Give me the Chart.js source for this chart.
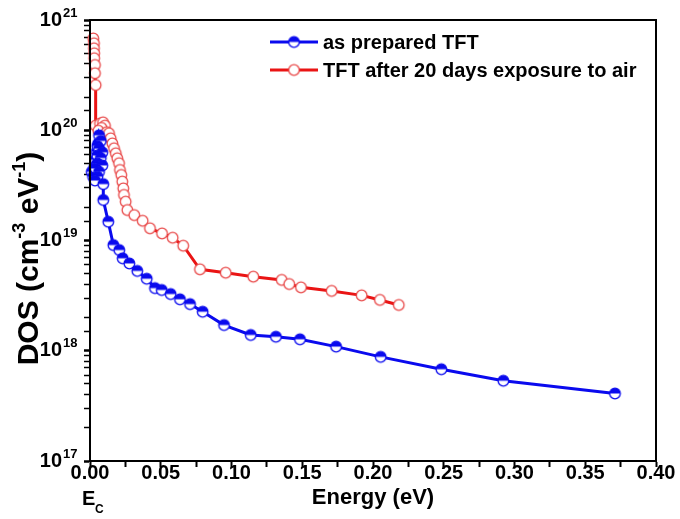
<!DOCTYPE html>
<html><head><meta charset="utf-8">
<script src="https://cdn.jsdelivr.net/npm/chart.js@4/dist/chart.umd.min.js"></script>
<style>html,body{margin:0;padding:0;background:#fff;}</style>
</head><body>
<canvas id="c" width="680" height="519"></canvas>
<script>
// ---- data ----
const seriesNames = ['as prepared TFT', 'TFT after 20 days exposure to air'];

const blueEnergy = [0.0012, 0.0022, 0.0030, 0.0040, 0.0048, 0.0058, 0.0064, 0.0076, 0.0052, 0.0064, 0.0087, 0.0052, 0.0076, 0.0052, 0.0087, 0.0040, 0.0064, 0.0052, 0.0035, 0.0094, 0.0094, 0.0129, 0.0165, 0.0207, 0.0231, 0.0278, 0.0334, 0.0401, 0.0459, 0.0507, 0.0570, 0.0636, 0.0707, 0.0796, 0.0947, 0.1136, 0.1314, 0.1484, 0.1739, 0.2054, 0.2483, 0.2921, 0.3710];
const blueDOS = [4.2e19, 3.8e19, 4.6e19, 5.4e19, 6.4e19, 7.6e19, 9.0e19, 8.0e19, 7.2e19, 6.8e19, 6.3e19, 5.9e19, 5.6e19, 5.0e19, 4.8e19, 4.5e19, 4.2e19, 3.8e19, 3.5e19, 3.25e19, 2.33e19, 1.48e19, 9.1e18, 8.2e18, 6.9e18, 6.2e18, 5.3e18, 4.5e18, 3.7e18, 3.56e18, 3.27e18, 2.93e18, 2.65e18, 2.26e18, 1.71e18, 1.39e18, 1.34e18, 1.27e18, 1.09e18, 8.8e17, 6.8e17, 5.35e17, 4.1e17];

const redEnergy = [0.0023, 0.0028, 0.0028, 0.0030, 0.0030, 0.0035, 0.0035, 0.0040, 0.0040, 0.0071, 0.0092, 0.0106, 0.0082, 0.0059, 0.0118, 0.0134, 0.0146, 0.0158, 0.0170, 0.0182, 0.0193, 0.0205, 0.0212, 0.0221, 0.0228, 0.0235, 0.0240, 0.0252, 0.0264, 0.0313, 0.0372, 0.0424, 0.0509, 0.0584, 0.0659, 0.0777, 0.0959, 0.1154, 0.1355, 0.1408, 0.1491, 0.1708, 0.1920, 0.2049, 0.2182];
const redDOS = [6.8e20, 6.15e20, 5.54e20, 4.99e20, 4.5e20, 3.91e20, 3.29e20, 2.57e20, 1.1e20, 1.15e20, 1.18e20, 1.1e20, 1.05e20, 9.9e19, 9.6e19, 9.4e19, 8.45e19, 7.6e19, 6.86e19, 6.18e19, 5.57e19, 5.02e19, 4.36e19, 3.93e19, 3.42e19, 2.97e19, 2.59e19, 2.25e19, 1.89e19, 1.70e19, 1.51e19, 1.29e19, 1.16e19, 1.06e19, 8.97e18, 5.48e18, 5.1e18, 4.7e18, 4.39e18, 4.03e18, 3.76e18, 3.49e18, 3.18e18, 2.89e18, 2.6e18];

const xTickLabels = ['0.00', '0.05', '0.10', '0.15', '0.20', '0.25', '0.30', '0.35', '0.40'];
const yTickExponents = [17, 18, 19, 20, 21];
const xTitle = 'Energy (eV)';
const yTitleParts = [['DOS (cm', false], ['-3', true], [' eV', false], ['-1', true], [')', false]];

// ---- styles ----
const FONT = "'Liberation Sans', Arial, Helvetica, sans-serif";
const BLUE = '#0a0aee';
const RED = '#ea1414';
const RED_MARK = '#e84848';

function makeMarker(half, color, fillColor) {
  const c = document.createElement('canvas');
  c.width = 15; c.height = 15;
  const g = c.getContext('2d');
  const cx = 7.5, cy = 7.5, r = 5.3;
  g.fillStyle = '#fff';
  g.beginPath(); g.arc(cx, cy, r, 0, 2 * Math.PI); g.fill();
  if (half) {
    g.fillStyle = fillColor;
    g.beginPath(); g.arc(cx, cy, r, Math.PI, 2 * Math.PI); g.closePath(); g.fill();
  }
  g.strokeStyle = color; g.lineWidth = 1.3;
  g.beginPath(); g.arc(cx, cy, r, 0, 2 * Math.PI); g.stroke();
  return c;
}
const blueMarker = makeMarker(true, BLUE, BLUE);
const redMarker = makeMarker(false, RED_MARK, RED);

const toPts = (xs, ys) => xs.map((x, i) => ({x: x, y: ys[i]}));
const isDecade = v => { const e = Math.log10(v); return Math.abs(e - Math.round(e)) < 1e-6; };

const decor = {
  id: 'decor',
  afterDraw(chart) {
    const {ctx, chartArea: a, scales} = chart;
    ctx.save();
    ctx.strokeStyle = '#000'; ctx.lineWidth = 2;
    ctx.strokeRect(a.left, a.top, a.right - a.left, a.bottom - a.top);
    // y tick exponents (superscripts next to the "10" labels drawn by the axis)
    ctx.fillStyle = '#000';
    ctx.font = 'bold 13px ' + FONT;
    ctx.textAlign = 'left'; ctx.textBaseline = 'middle';
    yTickExponents.forEach(e => {
      const y = scales.y.getPixelForValue(Math.pow(10, e));
      ctx.fillText(String(e), a.left - 27, y - 7);
    });
    // y axis title with real superscripts
    ctx.save();
    ctx.translate(30, (a.top + a.bottom) / 2 + 18);
    ctx.rotate(-Math.PI / 2);
    const big = 'bold 30px ' + FONT, small = 'bold 18px ' + FONT;
    let total = 0;
    yTitleParts.forEach(([t, sup]) => { ctx.font = sup ? small : big; total += ctx.measureText(t).width; });
    let x = -total / 2;
    ctx.textBaseline = 'middle'; ctx.textAlign = 'left';
    yTitleParts.forEach(([t, sup]) => {
      ctx.font = sup ? small : big;
      ctx.fillText(t, x, sup ? -10 : 0);
      x += ctx.measureText(t).width;
    });
    ctx.restore();
    // legend
    const lx = a.left + 180, ly = a.top + 22, gap = 28;
    chart.data.datasets.forEach((ds, i) => {
      const y = ly + i * gap;
      ctx.strokeStyle = ds.borderColor; ctx.lineWidth = 3;
      ctx.beginPath(); ctx.moveTo(lx, y); ctx.lineTo(lx + 48, y); ctx.stroke();
      ctx.drawImage(ds.pointStyle, lx + 24 - 7.5, y - 7.5);
      ctx.fillStyle = '#000';
      ctx.font = 'bold 20px ' + FONT;
      ctx.textAlign = 'left'; ctx.textBaseline = 'middle';
      ctx.fillText(ds.label, lx + 53, y + 1);
    });
    // E_C under the 0.00 tick
    const x0 = scales.x.getPixelForValue(0);
    ctx.fillStyle = '#000';
    ctx.textBaseline = 'alphabetic'; ctx.textAlign = 'left';
    ctx.font = 'bold 20px ' + FONT;
    ctx.fillText('E', x0 - 8, 505);
    ctx.font = 'bold 12px ' + FONT;
    ctx.fillText('C', x0 + 5, 513);
    ctx.restore();
  }
};

new Chart(document.getElementById('c'), {
  type: 'scatter',
  data: {
    datasets: [
      {label: seriesNames[0], data: toPts(blueEnergy, blueDOS), showLine: true, borderColor: BLUE, borderWidth: 3, pointStyle: blueMarker, pointRadius: 5, clip: false, tension: 0},
      {label: seriesNames[1], data: toPts(redEnergy, redDOS), showLine: true, borderColor: RED, borderWidth: 3, pointStyle: redMarker, pointRadius: 5, clip: false, tension: 0}
    ]
  },
  options: {
    responsive: false,
    devicePixelRatio: 1,
    animation: false,
    layout: {padding: {top: 20, right: 24, left: 0, bottom: 0}},
    plugins: {legend: {display: false}, tooltip: {enabled: false}},
    scales: {
      x: {
        type: 'linear', min: 0, max: 0.4,
        afterFit: s => { s.height = 58; s.paddingLeft = 0; s.paddingRight = 0; },
        border: {color: '#000', width: 2},
        grid: {display: true, drawOnChartArea: false, drawTicks: true, tickLength: 6, tickColor: '#000', tickWidth: 2},
        ticks: {
          stepSize: 0.025, autoSkip: false, maxRotation: 0, padding: -6, color: '#000',
          font: {family: FONT, size: 20, weight: 'bold'},
          callback: (v, i) => (i % 2 === 0 ? xTickLabels[i / 2] : '')
        },
        title: {display: true, text: xTitle, color: '#000', font: {family: FONT, size: 22, weight: 'bold'}, padding: {top: 0, bottom: 8}}
      },
      y: {
        type: 'logarithmic', min: 1e17, max: 1e21,
        afterFit: s => { s.width = 90; s.paddingTop = 0; s.paddingBottom = 0; },
        border: {color: '#000', width: 2},
        grid: {display: true, drawOnChartArea: false, drawTicks: true, tickLength: 6, tickColor: '#000',
               tickWidth: c => (isDecade(c.tick.value) ? 2.5 : 1.5)},
        ticks: {
          autoSkip: false, padding: 22, color: '#000',
          font: {family: FONT, size: 20, weight: 'bold'},
          callback: v => (isDecade(v) && yTickExponents.includes(Math.round(Math.log10(v))) ? '10' : '')
        },
        title: {display: false}
      }
    }
  },
  plugins: [decor]
});
</script>
</body></html>
